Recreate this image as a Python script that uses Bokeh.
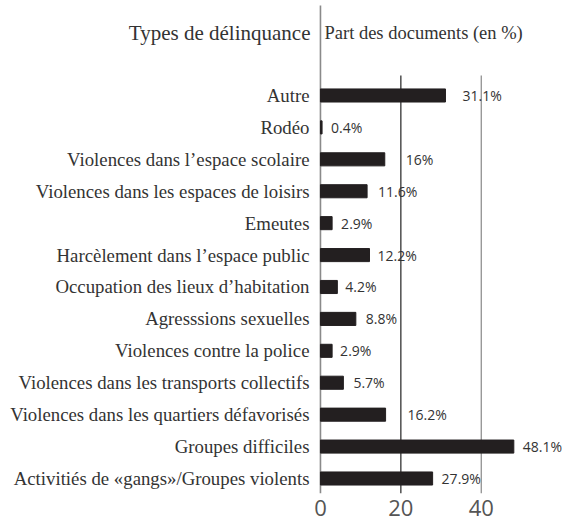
from bokeh.plotting import figure
from bokeh.models import Range1d, FixedTicker, Label, ColumnDataSource
from bokeh.core.properties import value
from bokeh.embed import file_html
from bokeh.resources import INLINE

categories = [
    "Autre",
    "Rodéo",
    "Violences dans l’espace scolaire",
    "Violences dans les espaces de loisirs",
    "Emeutes",
    "Harcèlement dans l’espace public",
    "Occupation des lieux d’habitation",
    "Agresssions sexuelles",
    "Violences contre la police",
    "Violences dans les transports collectifs",
    "Violences dans les quartiers défavorisés",
    "Groupes difficiles",
    "Activitiés de «gangs»/Groupes violents",
]
values = [31.1, 0.4, 16, 11.6, 2.9, 12.2, 4.2, 8.8, 2.9, 5.7, 16.2, 48.1, 27.9]
value_labels = ["31.1%", "0.4%", "16%", "11.6%", "2.9%", "12.2%", "4.2%",
                "8.8%", "2.9%", "5.7%", "16.2%", "48.1%", "27.9%"]
x_ticks = [0, 20, 40]
grid_ticks = [20, 40]
left_title = "Types de délinquance"
right_title = "Part des documents (en %)"

# style: label pixel offsets
label_offsets = [17, 9, 21, 11, 9, 8, 8, 10, 8, 10, 22, 9, 9]

n = len(categories)
ypos = [n - 1 - i for i in range(n)]

W, H = 572, 523
BOTTOM = 30
y0, y1 = -0.47, 14.976
x0, x1 = -79.6, 62.7

p = figure(width=W, height=H, output_backend="svg", toolbar_location=None,
           x_range=Range1d(x0, x1), y_range=Range1d(y0, y1),
           min_border_left=0, min_border_right=0, min_border_top=0,
           min_border_bottom=BOTTOM)
p.outline_line_color = None
p.xgrid.visible = False
p.ygrid.visible = False
p.yaxis.visible = False
p.background_fill_color = "white"
p.border_fill_color = "white"

src = ColumnDataSource(dict(y=ypos, v=values, lab=value_labels, off=label_offsets,
                            zero=[0] * n, cat=categories))
# vertical axis line at 0 and grid lines
p.segment(x0=[0], x1=[0], y0=[y0], y1=[14.82], line_color="#8a8a8a", line_width=1.6)
p.segment(x0=grid_ticks, x1=grid_ticks, y0=[y0] * len(grid_ticks),
          y1=[12.63] * len(grid_ticks), line_color=["#222222", "#888888"], line_width=1.2)
p.hbar(y="y", left="zero", right="v", height=0.41, source=src,
       fill_color="#231f20", line_color="#231f20")
p.text(x="v", y="y", text="lab", x_offset="off", source=src,
       text_font=value("Open Sans"), text_font_size="14px", text_color="#333333",
       text_baseline="middle", text_align="left")
p.text(x="zero", y="y", text="cat", x_offset=-11, source=src,
       text_font=value("Liberation Serif"), text_font_size="18.8px",
       text_color="#333333", text_baseline="middle", text_align="right")

# x axis
p.xaxis.ticker = FixedTicker(ticks=x_ticks)
p.xaxis.axis_line_color = None
p.xaxis.major_tick_line_color = None
p.xaxis.minor_tick_line_color = None
p.xaxis.major_label_standoff = 0
p.xaxis.major_label_text_font = "Open Sans"
p.xaxis.major_label_text_font_size = "22px"
p.xaxis.major_label_text_color = "#555555"

p.add_layout(Label(x=0, y=13.97, x_offset=-10, text=left_title, text_align="right",
                   text_baseline="middle", text_font="Liberation Serif",
                   text_font_size="21px", text_color="#333333"))
p.add_layout(Label(x=0, y=13.97, x_offset=4, text=right_title, text_align="left",
                   text_baseline="middle", text_font="Liberation Serif",
                   text_font_size="18.5px", text_color="#333333"))

open("out.html", "w").write(file_html(p, INLINE))
